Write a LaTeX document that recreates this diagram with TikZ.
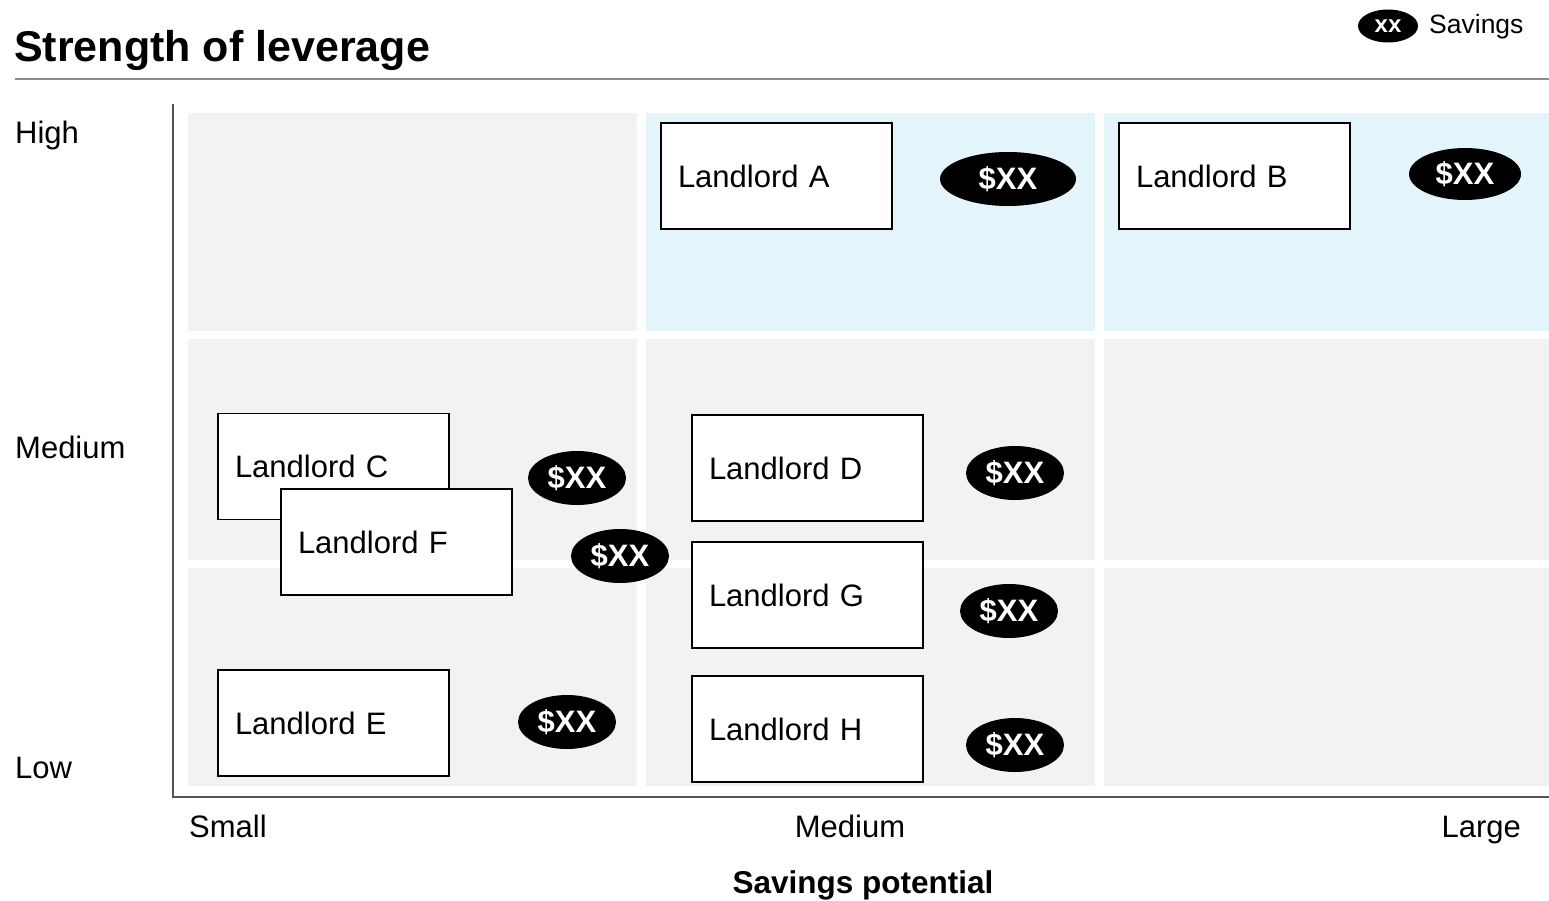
\documentclass[tikz,border=0pt]{standalone}
\usepackage{fontspec}
\setmainfont{Liberation Sans}
\usetikzlibrary{shapes.geometric}
\definecolor{CellClr}{RGB}{242,242,242}
\definecolor{HighClr}{RGB}{227,245,250}
\definecolor{AxisClr}{RGB}{85,85,85}
\definecolor{RuleClr}{RGB}{140,140,140}

\begin{document}
\begin{tikzpicture}[x=1pt,y=-1pt,
  landlord/.style={draw=black,line width=1.5pt,fill=white,text width=197pt,
    inner xsep=17pt,inner ysep=0pt,minimum height=106pt,align=left,
    font=\fontsize{31}{36}\selectfont},
  saving/.style={ellipse,fill=black,text=white,inner sep=0pt,
    minimum width=98pt,minimum height=54pt,font=\fontsize{31}{36}\selectfont\bfseries},
  lbl/.style={inner sep=0pt,font=\fontsize{31}{36}\selectfont}]
\useasboundingbox (0,0) rectangle (1549,901);

% header
\node[anchor=base west,inner sep=0pt,font=\fontsize{43}{48}\selectfont\bfseries] (title) at (14,62) {Strength of leverage};
\draw[RuleClr,line width=2.5pt] (15,79) -- (1549,79);
\node[ellipse,fill=black,text=white,inner sep=0pt,minimum width=60pt,minimum height=33pt,
  font=\fontsize{24}{28}\selectfont\bfseries] (key) at (1388,26) {xx};
\node[anchor=base west,inner sep=0pt,font=\fontsize{26.5}{30}\selectfont] (keytxt) at (1429,34) {Savings};

% cells
\fill[CellClr] (188,113) rectangle (637,331);
\fill[HighClr] (646,113) rectangle (1095,331);
\fill[HighClr] (1104,113) rectangle (1549,331);
\fill[CellClr] (188,339) rectangle (637,560);
\fill[CellClr] (646,339) rectangle (1095,560);
\fill[CellClr] (1104,339) rectangle (1549,560);
\fill[CellClr] (188,568) rectangle (637,786);
\fill[CellClr] (646,568) rectangle (1095,786);
\fill[CellClr] (1104,568) rectangle (1549,786);

% axes
\draw[AxisClr,line width=1.8pt] (173,104) -- (173,797) -- (1549,797);
\node[lbl,anchor=base west] (high) at (15,144) {High};
\node[lbl,anchor=base west] (med) at (15,458) {Medium};
\node[lbl,anchor=base west] (low) at (15,778) {Low};
\node[lbl,anchor=base west] (small) at (189,837) {Small};
\node[lbl,anchor=base] (medium) at (850,837) {Medium};
\node[lbl,anchor=base east] (large) at (1521,837) {Large};
\node[lbl,anchor=base,font=\fontsize{31.5}{36}\selectfont\bfseries] (xtitle) at (863,893) {Savings potential};

% landlords
\node[landlord] (A) at (776.5,176) {Landlord A};
\node[landlord] (B) at (1234.5,176) {Landlord B};
\node[landlord] (C) at (333.5,466.5) {Landlord C};
\node[landlord] (F) at (396.5,542) {Landlord F};
\node[landlord] (D) at (807.5,468) {Landlord D};
\node[landlord] (G) at (807.5,595) {Landlord G};
\node[landlord] (E) at (333.5,723) {Landlord E};
\node[landlord] (H) at (807.5,729) {Landlord H};

% savings
\node[saving,minimum width=136pt] (sA) at (1008,179) {\$XX};
\node[saving,minimum width=112pt,minimum height=52pt] (sB) at (1465,174) {\$XX};
\node[saving] (sC) at (577,478) {\$XX};
\node[saving] (sF) at (620,556) {\$XX};
\node[saving] (sD) at (1015,473) {\$XX};
\node[saving] (sG) at (1009,611) {\$XX};
\node[saving] (sE) at (567,722) {\$XX};
\node[saving] (sH) at (1015,745) {\$XX};

\end{tikzpicture}
\end{document}
